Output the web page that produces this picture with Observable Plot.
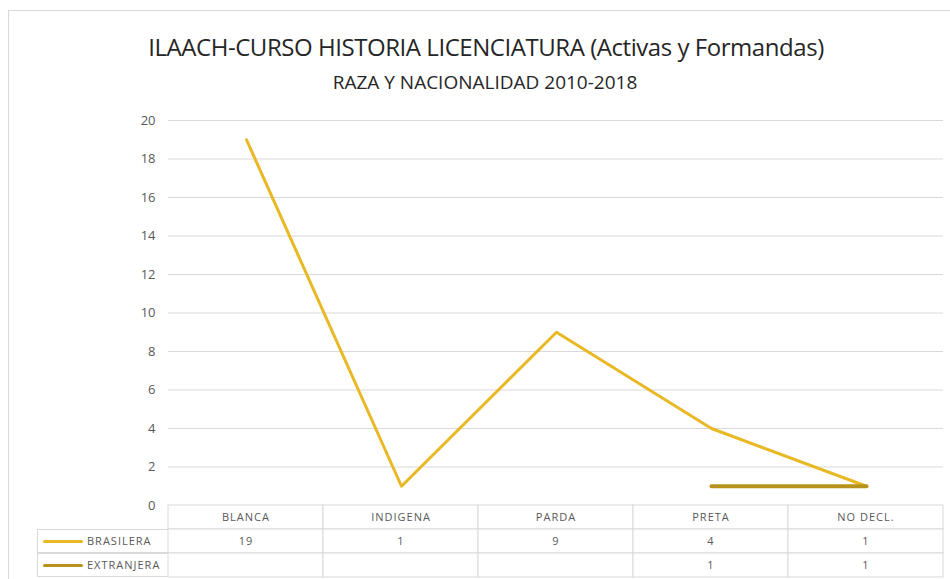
<!DOCTYPE html>
<html>
<head>
<meta charset="utf-8">
<script src="https://cdn.jsdelivr.net/npm/d3@7"></script>
<script src="https://cdn.jsdelivr.net/npm/@observablehq/plot@0.6"></script>
<style>
  html, body { margin: 0; padding: 0; background: #fff; }
  body { width: 950px; height: 579px; overflow: hidden; position: relative; font-family: "Open Sans", sans-serif; }
  #frame { position: absolute; left: 8px; top: 10px; width: 980px; height: 620px; border: 1px solid #d9d9d9; box-sizing: border-box; }
  #title { position: absolute; left: 0; width: 972px; top: 33px; line-height: 28px; text-align: center; font-size: 24px; color: #262626; letter-spacing: -0.45px; white-space: nowrap; }
  #subtitle { position: absolute; left: 0; width: 970px; top: 70px; line-height: 24px; text-align: center; font-size: 19px; color: #262626; letter-spacing: 0px; white-space: nowrap; }
  #chart { position: absolute; left: 0; top: 100px; }
  #table { position: absolute; left: 0; top: 504px; }
  .lg { position: absolute; left: 37px; width: 131px; height: 24px; border: 1px solid #d9d9d9; border-right: none; box-sizing: border-box; font-size: 11px; letter-spacing: 1px; color: #595959; }
  .lg .sw { position: absolute; left: 5px; top: 10px; width: 40px; height: 3px; border-radius: 2px; }
  .lg .tx { position: absolute; left: 49px; top: 0; line-height: 22px; }
</style>
</head>
<body>
<div id="frame"></div>
<div id="title">ILAACH-CURSO HISTORIA LICENCIATURA (Activas y Formandas)</div>
<div id="subtitle">RAZA Y NACIONALIDAD 2010-2018</div>
<div id="chart"></div>
<div id="table"></div>
<div id="legend"></div>
<script>
const categories = ["BLANCA", "INDIGENA", "PARDA", "PRETA", "NO DECL."];
const brasilera = [19, 1, 9, 4, 1];
const extranjera = [null, null, null, 1, 1];
const seriesNames = ["BRASILERA", "EXTRANJERA"];
const seriesColors = ["#E9B825", "#B5931C"];
const yTicks = [0, 2, 4, 6, 8, 10, 12, 14, 16, 18, 20];

const seriesValues = [brasilera, extranjera];
const rows = seriesNames.map((name, s) =>
  categories.map((c, i) => ({series: name, cat: c, value: seriesValues[s][i]}))
);

const chart = Plot.plot({
  width: 950,
  height: 406,
  marginTop: 20,
  marginBottom: 1,
  marginLeft: 168,
  marginRight: 7,
  style: {background: "transparent", overflow: "visible", fontFamily: "Open Sans", fontSize: "13px", color: "#595959"},
  x: {type: "point", domain: categories, padding: 0.5, axis: null},
  y: {domain: [0, 20], ticks: yTicks, tickSize: 0, tickPadding: 13, label: null},
  marks: [
    Plot.ruleY(yTicks, {stroke: "#d9d9d9", strokeWidth: 1}),
    Plot.line(rows[0], {x: "cat", y: "value", stroke: seriesColors[0], strokeWidth: 3}),
    Plot.line(rows[1].filter(d => d.value != null), {x: "cat", y: "value", stroke: seriesColors[1], strokeWidth: 4})
  ]
});
document.getElementById("chart").appendChild(chart);

const cells = [];
categories.forEach((c, i) => {
  cells.push({row: "header", cat: c, label: c});
  seriesNames.forEach((name, s) => {
    const v = seriesValues[s][i];
    cells.push({row: name, cat: c, label: v == null ? "" : String(v)});
  });
});

const table = Plot.plot({
  width: 950,
  height: 74,
  marginTop: 1,
  marginBottom: 1,
  marginLeft: 168,
  marginRight: 7,
  style: {background: "transparent", overflow: "visible", fontFamily: "Open Sans", letterSpacing: "1px"},
  x: {type: "band", domain: categories, padding: 0, axis: null},
  y: {type: "band", domain: ["header", ...seriesNames], padding: 0, axis: null},
  marks: [
    Plot.cell(cells, {x: "cat", y: "row", fill: "white", stroke: "#d9d9d9", inset: 0}),
    Plot.text(cells, {x: "cat", y: "row", text: "label", fontSize: 11, fill: "#595959"})
  ]
});
document.getElementById("table").appendChild(table);

const legend = document.getElementById("legend");
seriesNames.forEach((name, s) => {
  const row = document.createElement("div");
  row.className = "lg";
  row.style.top = (529 + s * 24) + "px";
  row.innerHTML = `<span class="sw" style="background:${seriesColors[s]}"></span><span class="tx">${name}</span>`;
  legend.appendChild(row);
});
</script>
</body>
</html>
